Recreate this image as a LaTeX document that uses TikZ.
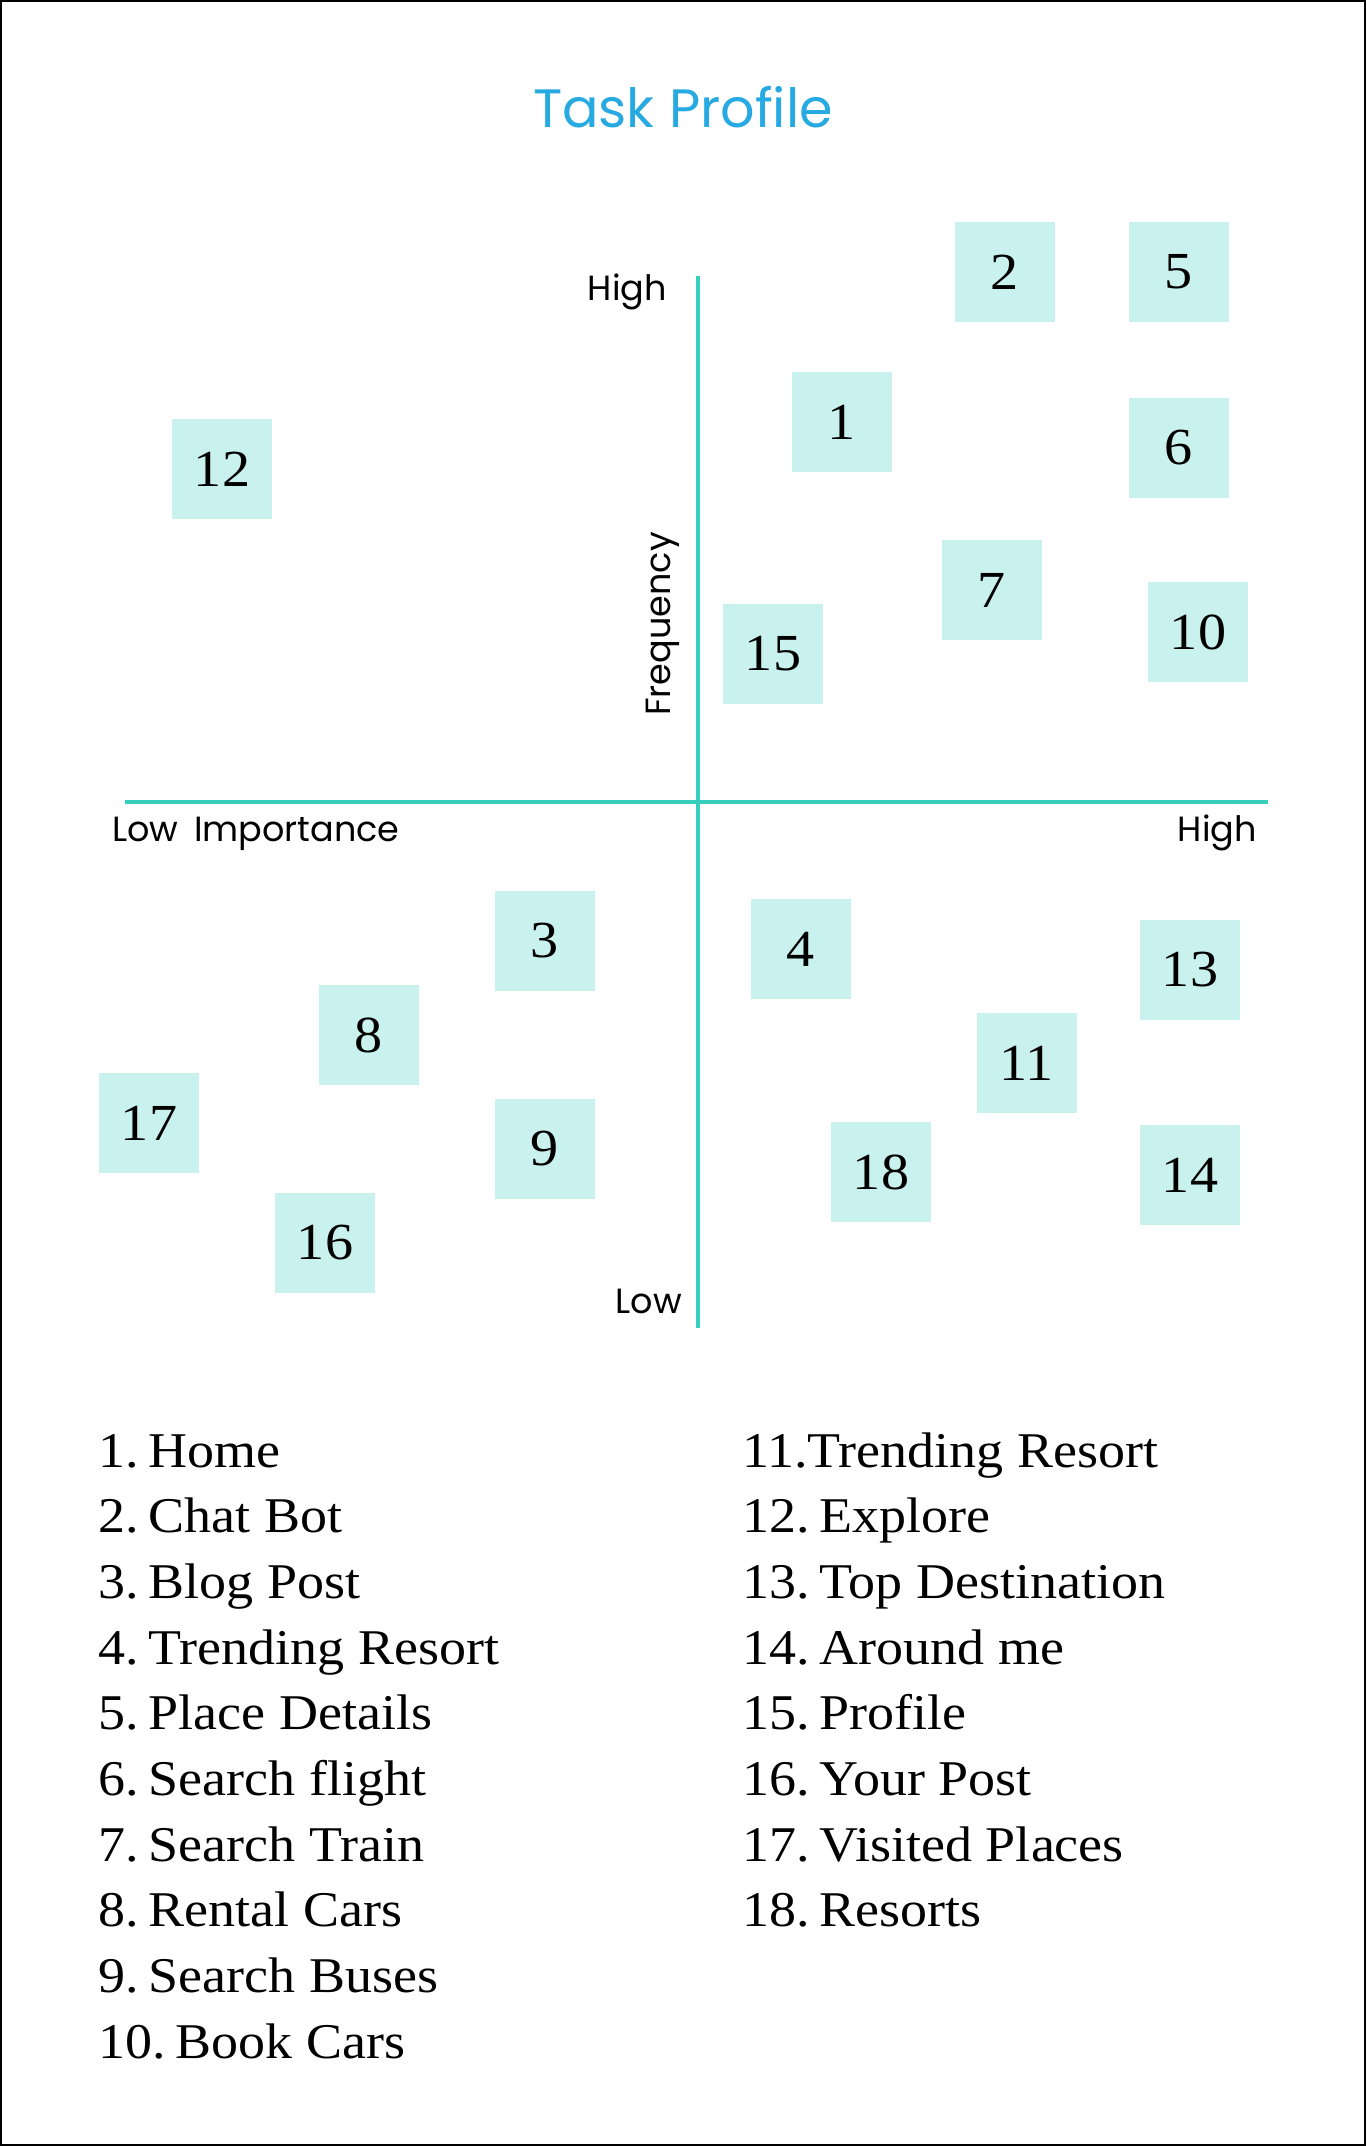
\documentclass[tikz,border=0pt]{standalone}
\usepackage{fontspec}
\setmainfont{Liberation Serif}[FakeStretch=1.08]
\newfontfamily\poppins{Poppins}
\usepackage{tikz}
\definecolor{titleblue}{HTML}{27AAE1}
\definecolor{axisteal}{HTML}{36CFBE}
\definecolor{boxfill}{HTML}{C9F1ED}

\begin{document}
\begin{tikzpicture}[
        x=1pt, y=-1pt,
        taskbox/.style={fill=boxfill, minimum size=100pt, inner sep=0pt, font=\fontsize{52}{52}\selectfont},
        axislbl/.style={font=\poppins\fontsize{35}{35}\selectfont, inner sep=0pt},
        item/.style={anchor=base west, inner sep=0pt, font=\fontsize{50}{50}\selectfont},
        axisline/.style={draw=axisteal, line width=3.5pt}
    ]
        \useasboundingbox (0,0) rectangle (1366,2146);
        \draw[line width=2pt] (1,1) rectangle (1365,2145);

        \node[font=\poppins\fontsize{54}{54}\selectfont, text=titleblue, anchor=base, inner sep=0pt] (title) at (683,128) {Task Profile};

        % axes
        \coordinate (ftop) at (698,276);
        \coordinate (fbot) at (698,1328);
        \coordinate (ileft) at (125,802);
        \coordinate (iright) at (1268,802);
        \draw[axisline] (ftop) -- (fbot);
        \draw[axisline] (ileft) -- (iright);

        \node[axislbl, anchor=base east] (fhigh) at (667,300) {High};
        \node[axislbl, anchor=base east] (flow) at (682,1313) {Low};
        \node[axislbl, anchor=base west] (ilow) at (112,841) {Low\hspace{0.45em}Importance};
        \node[axislbl, anchor=base east] (ihigh) at (1257,841) {High};
        \node[axislbl, anchor=base, rotate=90] (freq) at (670,624) {Frequency};

        % tasks
        \node[taskbox] (t1) at (842,422) {1};
        \node[taskbox] (t2) at (1005,272) {2};
        \node[taskbox] (t3) at (545,941) {3};
        \node[taskbox] (t4) at (801,949) {4};
        \node[taskbox] (t5) at (1179,272) {5};
        \node[taskbox] (t6) at (1179,448) {6};
        \node[taskbox] (t7) at (992,590) {7};
        \node[taskbox] (t8) at (369,1035) {8};
        \node[taskbox] (t9) at (545,1149) {9};
        \node[taskbox] (t10) at (1198,632) {10};
        \node[taskbox] (t11) at (1027,1063) {11};
        \node[taskbox] (t12) at (222,469) {12};
        \node[taskbox] (t13) at (1190,970) {13};
        \node[taskbox] (t14) at (1190,1175) {14};
        \node[taskbox] (t15) at (773,654) {15};
        \node[taskbox] (t16) at (325,1243) {16};
        \node[taskbox] (t17) at (149,1123) {17};
        \node[taskbox] (t18) at (881,1172) {18};

        % legend
        \foreach \n/\name [count=\i from 0] in {1/Home, 2/Chat Bot, 3/Blog Post, 4/Trending Resort, 5/Place Details, 6/Search flight, 7/Search Train, 8/Rental Cars, 9/Search Buses, 10/Book Cars}
            \node[item] (l\n) at (98,1467+65.7*\i) {\n.\hspace{0.2em}\name};
        \node[item] (l11) at (742,1467) {11.Trending Resort};
        \foreach \n/\name [count=\i from 1] in {12/Explore, 13/Top Destination, 14/Around me, 15/Profile, 16/Your Post, 17/Visited Places, 18/Resorts}
            \node[item] (l\n) at (742,1467+65.7*\i) {\n.\hspace{0.2em}\name};
    \end{tikzpicture}
\end{document}
